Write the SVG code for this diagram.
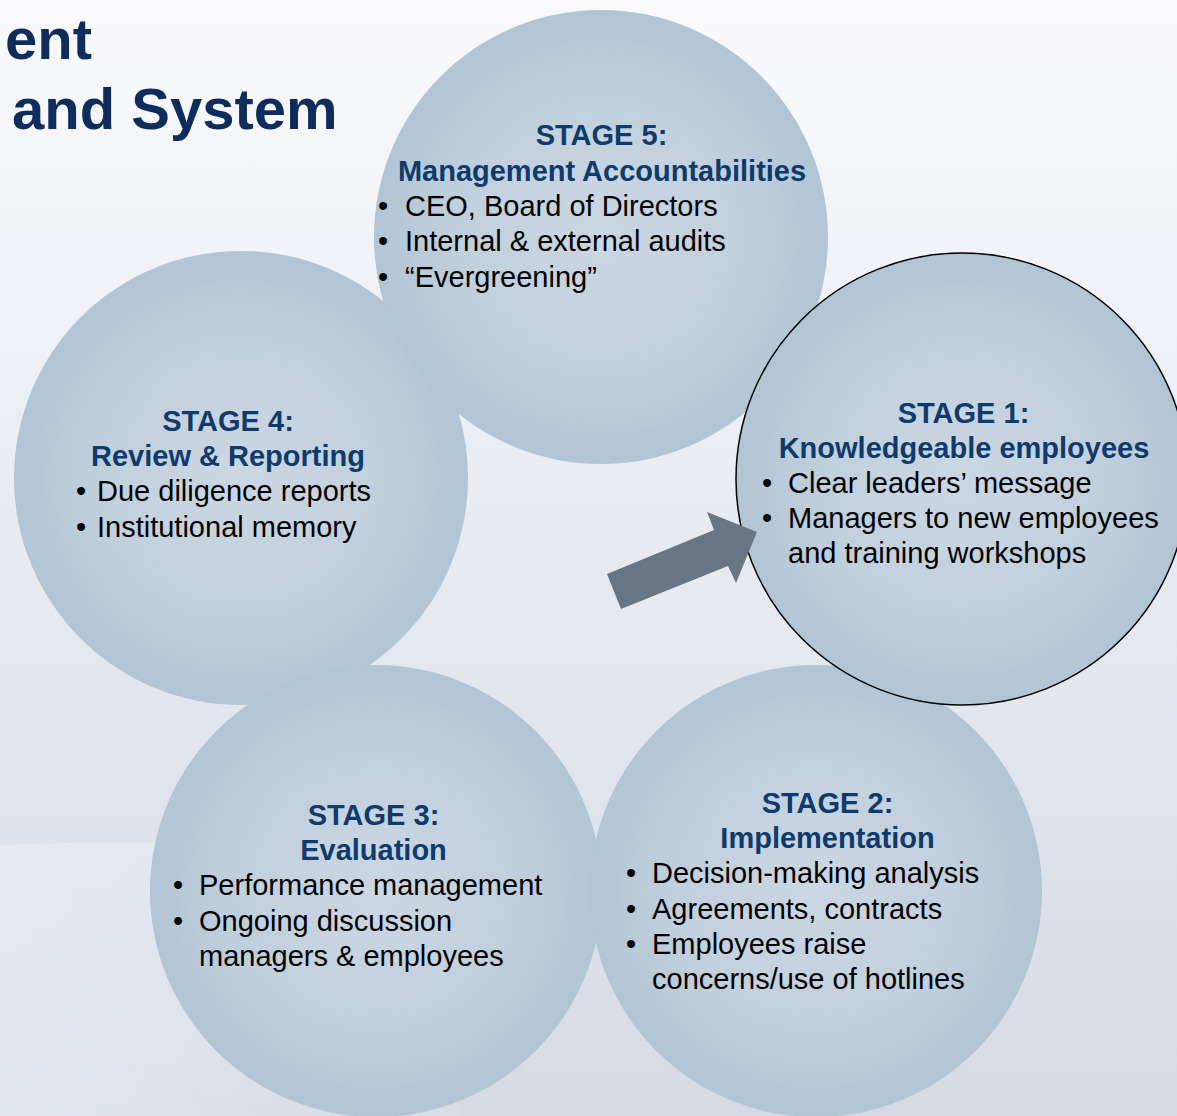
<svg xmlns="http://www.w3.org/2000/svg" width="1177" height="1116" viewBox="0 0 1177 1116">
  <defs>
    <linearGradient id="bg" x1="0" y1="0" x2="0" y2="1">
      <stop offset="0" stop-color="#fafafd"/>
      <stop offset="0.3" stop-color="#eef1f6"/>
      <stop offset="1" stop-color="#d5dae4"/>
    </linearGradient>
    <radialGradient id="ball" cx="0.5" cy="0.5" r="0.5">
      <stop offset="0" stop-color="#cbd7e3"/>
      <stop offset="0.6" stop-color="#c1d0dd"/>
      <stop offset="1" stop-color="#b2c5d5"/>
    </radialGradient>
    <linearGradient id="wave" x1="0" y1="0" x2="1" y2="0">
      <stop offset="0" stop-color="#ffffff" stop-opacity="0.28"/>
      <stop offset="1" stop-color="#ffffff" stop-opacity="0.05"/>
    </linearGradient>
  </defs>
  <style>
    .ball { fill: url(#ball); }
    .hd { font-family: "Liberation Sans", Arial, sans-serif; font-weight: bold; font-size: 29px; fill: #0f3a6c; text-anchor: middle; }
    .tx { font-family: "Liberation Sans", Arial, sans-serif; font-size: 29px; fill: #000000; }
    .title { font-family: "Liberation Sans", Arial, sans-serif; font-weight: bold; font-size: 58px; fill: #0e2d5c; }
  </style>
  <rect x="0" y="0" width="1177" height="1116" fill="url(#bg)"/>
  <path d="M0,845 C150,838 300,845 460,868 L460,1116 L0,1116 Z" fill="url(#wave)"/>

  <g id="title">
    <text class="title" x="5" y="59">ent</text>
    <text class="title" x="12" y="129">and System</text>
  </g>

  <g id="stage4">
    <circle class="ball" cx="241" cy="478" r="227"/>
  </g>
  <g id="stage5">
    <circle class="ball" cx="601" cy="237" r="227"/>
  </g>
  <g id="stage3">
    <circle class="ball" cx="376" cy="891" r="226"/>
  </g>
  <g id="stage2">
    <circle class="ball" cx="816" cy="891" r="226"/>
  </g>
  <g id="stage1">
    <circle class="ball" cx="962" cy="479" r="226" stroke="#000" stroke-width="1.5"/>
  </g>

  <g id="labels5">
    <text class="hd" x="601.5" y="145">STAGE 5:</text>
    <text class="hd" x="602" y="181">Management Accountabilities</text>
    <text class="tx" x="378" y="216">•</text><text class="tx" x="405" y="216">CEO, Board of Directors</text>
    <text class="tx" x="378" y="251">•</text><text class="tx" x="405" y="251">Internal &amp; external audits</text>
    <text class="tx" x="378" y="287">•</text><text class="tx" x="405" y="287">“Evergreening”</text>
  </g>
  <g id="labels4">
    <text class="hd" x="228" y="431">STAGE 4:</text>
    <text class="hd" x="228" y="466">Review &amp; Reporting</text>
    <text class="tx" x="76" y="501">•</text><text class="tx" x="97" y="501">Due diligence reports</text>
    <text class="tx" x="76" y="537">•</text><text class="tx" x="97" y="537">Institutional memory</text>
  </g>
  <g id="labels1">
    <text class="hd" x="963.5" y="423">STAGE 1:</text>
    <text class="hd" x="964" y="458">Knowledgeable employees</text>
    <text class="tx" x="762" y="493">•</text><text class="tx" x="788" y="493">Clear leaders’ message</text>
    <text class="tx" x="762" y="528">•</text><text class="tx" x="788" y="528">Managers to new employees</text>
    <text class="tx" x="788" y="563">and training workshops</text>
  </g>
  <g id="labels3">
    <text class="hd" x="373.5" y="825">STAGE 3:</text>
    <text class="hd" x="373.5" y="860">Evaluation</text>
    <text class="tx" x="173" y="895">•</text><text class="tx" x="199" y="895">Performance management</text>
    <text class="tx" x="173" y="931">•</text><text class="tx" x="199" y="931">Ongoing discussion</text>
    <text class="tx" x="199" y="966">managers &amp; employees</text>
  </g>
  <g id="labels2">
    <text class="hd" x="827.5" y="813">STAGE 2:</text>
    <text class="hd" x="827.5" y="848">Implementation</text>
    <text class="tx" x="626" y="883">•</text><text class="tx" x="652" y="883">Decision-making analysis</text>
    <text class="tx" x="626" y="919">•</text><text class="tx" x="652" y="919">Agreements, contracts</text>
    <text class="tx" x="626" y="954">•</text><text class="tx" x="652" y="954">Employees raise</text>
    <text class="tx" x="652" y="989">concerns/use of hotlines</text>
  </g>

  <g id="connectors">
    <polygon points="607,574 714,530 707,512 757,532 736,583 728,566 621,609" fill="#687583"/>
  </g>
</svg>
